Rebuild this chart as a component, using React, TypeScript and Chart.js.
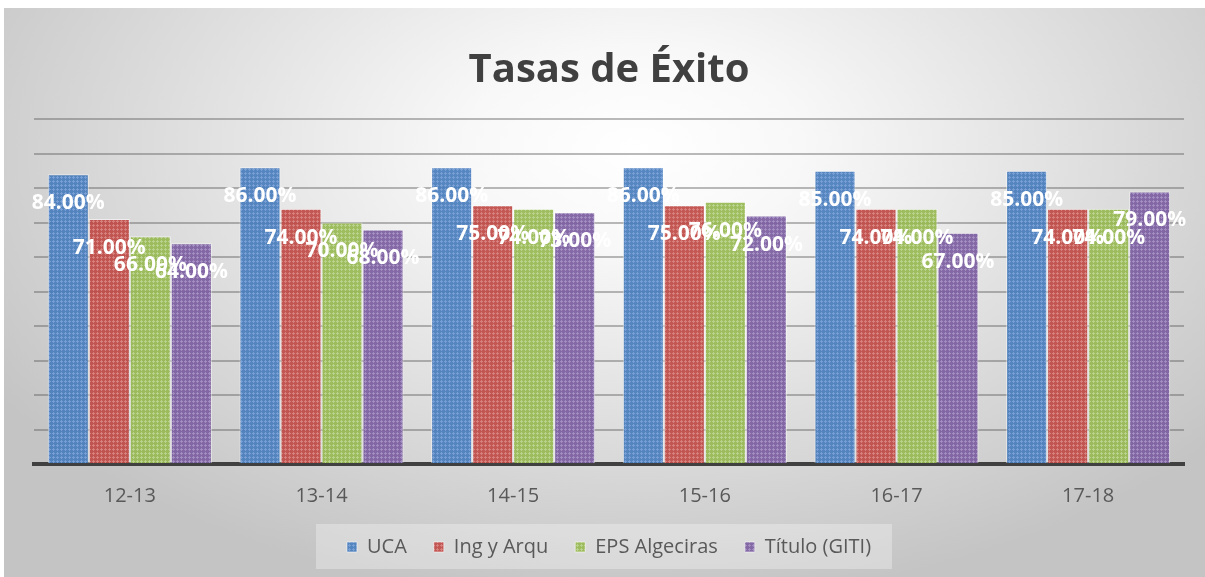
import React, { useEffect, useRef } from "react";
import { Chart, registerables } from "chart.js";

Chart.register(...registerables);

const categories = ["12-13", "13-14", "14-15", "15-16", "16-17", "17-18"];
const seriesNames = ["UCA", "Ing y Arqu", "EPS Algeciras", "Título (GITI)"];
const ucaValues = [84, 86, 86, 86, 85, 85];
const ingValues = [71, 74, 75, 75, 74, 74];
const epsValues = [66, 70, 74, 76, 74, 74];
const gitiValues = [64, 68, 73, 72, 67, 79];
const chartTitle = "Tasas de Éxito";

const baseColors = ["rgba(74,126,187,0.93)", "rgba(190,75,72,0.93)", "rgba(152,185,84,0.93)", "rgba(125,95,160,0.93)"];
const lightColors = ["rgba(120,160,214,0.93)", "rgba(216,130,127,0.93)", "rgba(188,211,143,0.93)", "rgba(164,143,193,0.93)"];

function makePattern(base: string, light: string): CanvasPattern | string {
  const c = document.createElement("canvas");
  c.width = 4;
  c.height = 4;
  const g = c.getContext("2d");
  if (!g) return base;
  g.fillStyle = base;
  g.fillRect(0, 0, 4, 4);
  g.fillStyle = light;
  g.fillRect(1, 0, 1, 3);
  g.fillRect(0, 1, 3, 1);
  return g.createPattern(c, "repeat") || base;
}

const backgroundPlugin = {
  id: "bgPlugin",
  beforeDraw(chart: any) {
    const { ctx, width, height } = chart;
    ctx.save();
    const cx = 630;
    const cy = 140;
    const sy = 0.6;
    ctx.translate(cx, cy);
    ctx.scale(1, sy);
    const r = 760;
    const grad = ctx.createRadialGradient(0, 0, 0, 0, 0, r);
    grad.addColorStop(0, "#ffffff");
    grad.addColorStop(0.22, "#f8f8f8");
    grad.addColorStop(1, "#c4c4c4");
    ctx.fillStyle = grad;
    ctx.fillRect(-cx, -cy / sy, width, height / sy + 10);
    ctx.restore();

    const legend = chart.legend;
    if (legend && legend.legendHitBoxes && legend.legendHitBoxes.length) {
      const boxes = legend.legendHitBoxes;
      let l = Infinity, r2 = -Infinity, t = Infinity, b = -Infinity;
      boxes.forEach((hb: any) => {
        l = Math.min(l, hb.left);
        r2 = Math.max(r2, hb.left + hb.width);
        t = Math.min(t, hb.top);
        b = Math.max(b, hb.top + hb.height);
      });
      const mid = (t + b) / 2;
      ctx.save();
      ctx.fillStyle = "rgba(255,255,255,0.3)";
      ctx.fillRect(l - 31, mid - 23, r2 - l + 52, 45);
      ctx.restore();
    }
  },
};

const labelPlugin = {
  id: "valueLabels",
  afterDatasetsDraw(chart: any) {
    const ctx = chart.ctx;
    ctx.save();
    ctx.font = "bold 21px 'Open Sans'";
    ctx.fillStyle = "#ffffff";
    ctx.textAlign = "center";
    ctx.textBaseline = "middle";
    chart.data.datasets.forEach((ds: any, i: number) => {
      const meta = chart.getDatasetMeta(i);
      meta.data.forEach((bar: any, j: number) => {
        ctx.fillText(Number(ds.data[j]).toFixed(2) + "%", bar.x, bar.y + 29);
      });
    });
    ctx.restore();
  },
};

export default function App() {
  const canvasRef = useRef<HTMLCanvasElement | null>(null);

  useEffect(() => {
    if (!canvasRef.current) return;
    const allValues = [ucaValues, ingValues, epsValues, gitiValues];
    const chart = new Chart(canvasRef.current, {
      type: "bar",
      data: {
        labels: categories,
        datasets: seriesNames.map((name, i) => ({
          label: name,
          data: allValues[i],
          backgroundColor: makePattern(baseColors[i], lightColors[i]) as any,
          borderColor: "rgba(255,255,255,0.55)",
          borderWidth: 1,
          categoryPercentage: 0.856,
          barPercentage: 1,
        })),
      },
      options: {
        animation: false,
        responsive: true,
        maintainAspectRatio: false,
        layout: { padding: { left: 30, right: 21, top: 0, bottom: 10 } },
        plugins: {
          title: {
            display: true,
            text: chartTitle,
            color: "#404040",
            font: { family: "'Open Sans'", size: 40, weight: "bold" },
            padding: { top: 39, bottom: 24 },
          },
          legend: {
            display: true,
            position: "bottom",
            labels: {
              color: "#595959",
              font: { family: "'Open Sans'", size: 20 },
              boxWidth: 10,
              boxHeight: 10,
              padding: 27,
            },
          },
          tooltip: { enabled: false },
        },
        scales: {
          x: {
            grid: { display: false },
            border: { display: true, color: "#404040", width: 4 },
            ticks: {
              color: "#595959",
              font: { family: "'Open Sans'", size: 20 },
              padding: 12,
            },
            afterFit: (scale: any) => {
              scale.height = scale.height - 10;
            },
          },
          y: {
            min: 0,
            max: 100,
            ticks: { display: false, stepSize: 10 },
            border: { display: false },
            grid: { color: "rgba(90,90,90,0.42)", lineWidth: 2, drawTicks: false },
          },
        },
      },
      plugins: [backgroundPlugin, labelPlugin],
    });
    return () => chart.destroy();
  }, []);

  return (
    <div style={{ position: "absolute", left: 4, top: 8, width: 1201, height: 569 }}>
      <canvas ref={canvasRef} />
    </div>
  );
}
